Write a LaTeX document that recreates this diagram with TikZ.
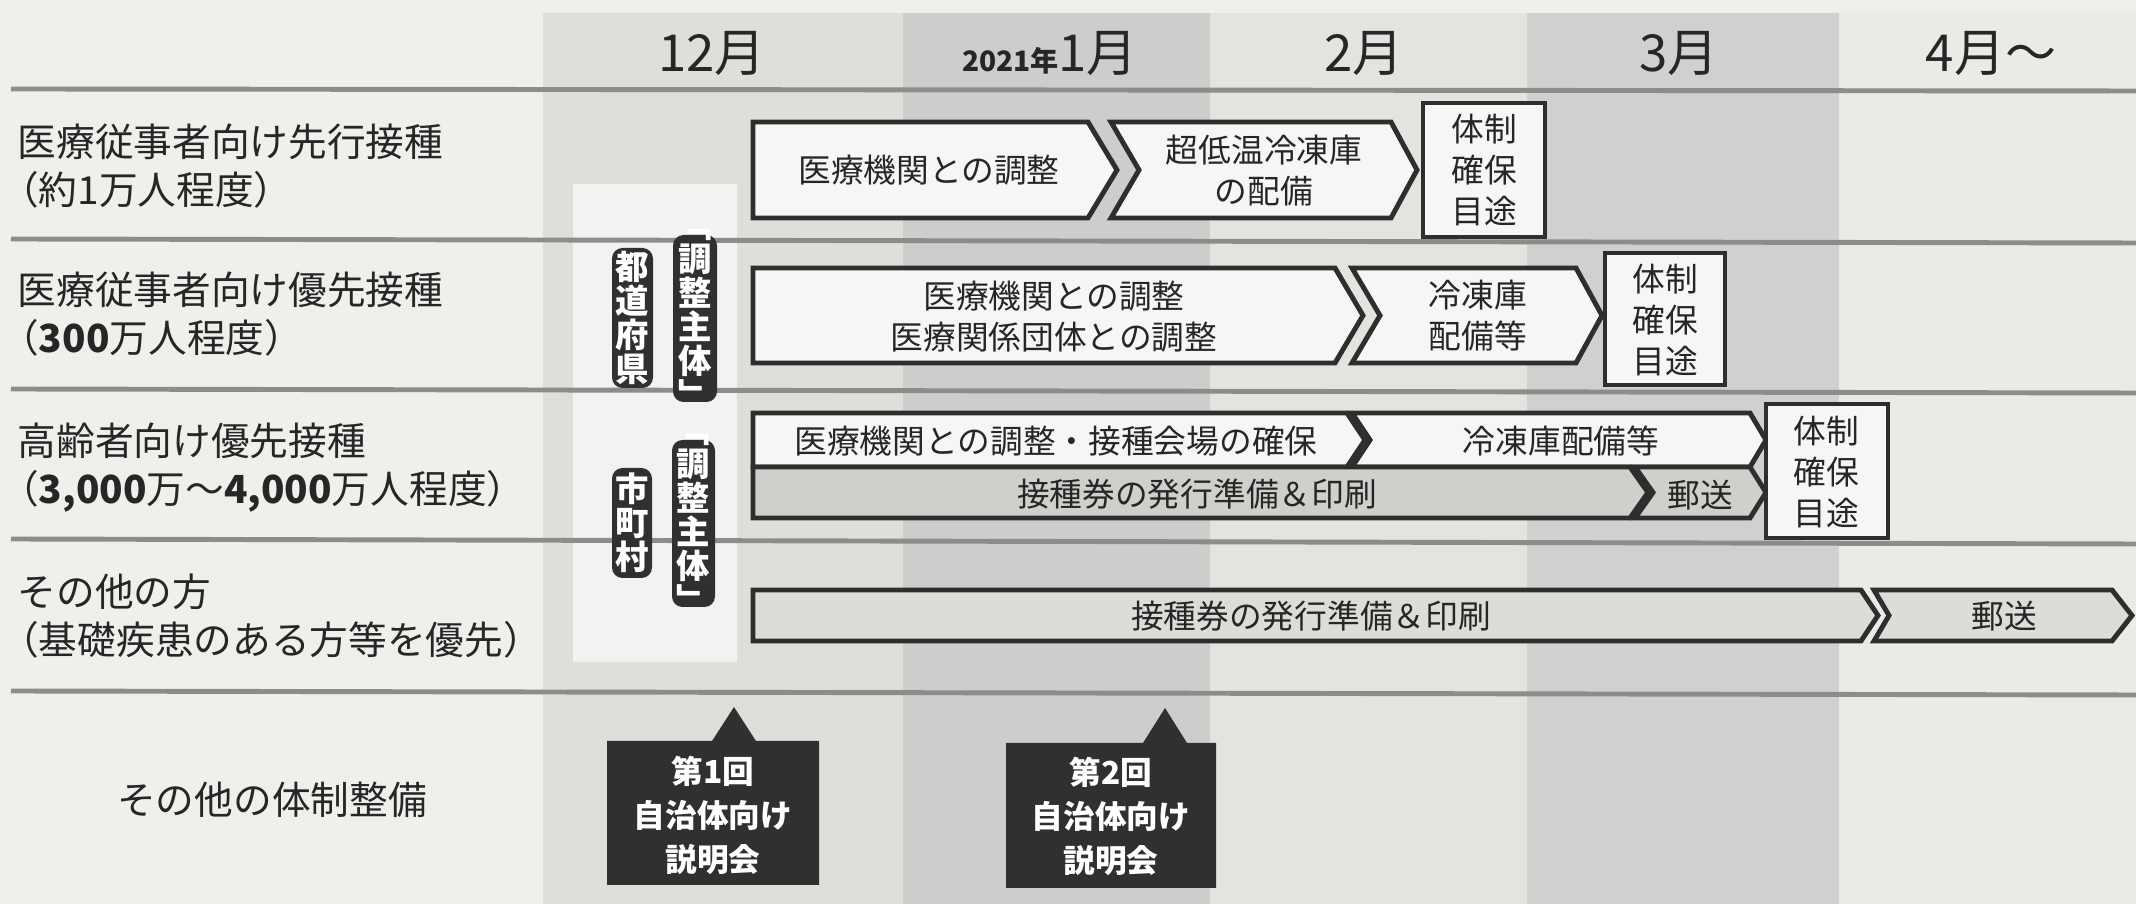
\documentclass[tikz,border=0pt]{standalone}
\usepackage{fontspec}
\setmainfont{Noto Sans CJK JP}
\definecolor{bgc}{HTML}{EFEFEC}
\definecolor{cdec}{HTML}{DEDEDB}
\definecolor{cjan}{HTML}{CDCDCB}
\definecolor{cfeb}{HTML}{E3E3E0}
\definecolor{cmar}{HTML}{D0D0CE}
\definecolor{capr}{HTML}{EAEAE7}
\definecolor{rulec}{HTML}{8C8C8A}
\definecolor{ink}{HTML}{2E2E2E}
\definecolor{txt}{HTML}{262626}
\definecolor{barfill}{HTML}{F6F6F4}
\definecolor{grayfill}{HTML}{CFCFCC}
\definecolor{lightfill}{HTML}{DCDCD9}
\definecolor{darkbox}{HTML}{303030}
\definecolor{stripc}{HTML}{F2F2F0}
\tikzset{
  rowrule/.style={draw=rulec, line width=1.4pt},
  barshape/.style={draw=ink, line width=1.4pt, fill=barfill, line join=miter},
  graybar/.style={barshape, fill=grayfill},
  lightbar/.style={barshape, fill=lightfill},
  goalbox/.style={draw=ink, line width=1.1pt, fill=barfill},
  lbl/.style={font=\fontsize{11pt}{13.7pt}\selectfont, align=left, anchor=west, inner sep=0pt, text=txt},
  bartext/.style={font=\fontsize{9.3pt}{11.7pt}\selectfont, align=center, inner sep=0pt, text=txt},
  month/.style={font=\fontsize{14.5pt}{16pt}\selectfont, anchor=base, inner sep=0pt, text=txt},
  callout/.style={fill=darkbox, draw=none},
  callouttext/.style={font=\fontsize{9pt}{12.5pt}\selectfont\bfseries, align=center, inner sep=0pt, text=white},
  vbox/.style={fill=darkbox, rounded corners=3pt},
  vtext/.style={font=\fontsize{9.5pt}{9.7pt}\selectfont\bfseries, align=center, inner sep=0pt, text=white},
}
\begin{document}
\begin{tikzpicture}[x=0.01cm, y=-0.01cm]
% background
\fill[bgc] (0,0) rectangle (2136,904);
\useasboundingbox (0,0) rectangle (2136,904);
% month columns
\fill[cdec] (543,13) rectangle (903,904);
\fill[cjan] (903,13) rectangle (1210,904);
\fill[cfeb] (1210,13) rectangle (1527,904);
\fill[cmar] (1527,13) rectangle (1839,904);
\fill[capr] (1839,13) rectangle (2136,904);
% light strip behind vertical labels
\fill[stripc] (573,184) rectangle (737,662);
% month headers
\node[month] (mdec) at (712,72) {12月};
\node[month] (mjan) at (1050,72) {{\fontsize{8pt}{9pt}\selectfont\bfseries 2021年}1月};
\node[month] (mfeb) at (1364,72) {2月};
\node[month] (mmar) at (1679,72) {3月};
\node[month] (mapr) at (1991,72) {4月～};
% row rules
\draw[rowrule] (11,89) -- (2136,91);
\draw[rowrule] (11,239) -- (2136,243);
\draw[rowrule] (11,389) -- (2136,393);
\draw[rowrule] (11,539) -- (2136,544);
\draw[rowrule] (11,691) -- (2136,695);
% left labels
\node[lbl] (r1) at (17,166) {医療従事者向け先行接種\\\kern-0.45em（約1万人程度）};
\node[lbl] (r2) at (17,314) {医療従事者向け優先接種\\\kern-0.45em（{\bfseries 300}万人程度）};
\node[lbl] (r3) at (17,468) {高齢者向け優先接種\\\kern-0.45em（{\bfseries 3,000}万～{\bfseries 4,000}万人程度）};
\node[lbl] (r4) at (17,616) {その他の方\\\kern-0.45em（基礎疾患のある方等を優先）};
\node[lbl, anchor=center] (r5) at (272,800) {その他の体制整備};
% vertical labels
\fill[vbox] (612,248) rectangle (653,388);
\node[vtext] (pref) at (632.5,318) {都\\道\\府\\県};
\fill[vbox] (673,235) rectangle (717,402);
\node[vtext] (prefrole) at (695,318.5) {﹁\\調\\整\\主\\体\\﹂};
\fill[vbox] (612,468) rectangle (652,578);
\node[vtext] (muni) at (632,523) {市\\町\\村};
\fill[vbox] (672,440) rectangle (715,607);
\node[vtext] (munirole) at (693.5,523.5) {﹁\\調\\整\\主\\体\\﹂};
% row 1
\draw[barshape] (753,122) -- (1088,122) -- (1117,170) -- (1088,218) -- (753,218) -- cycle;
\node[bartext] (a1) at (929,170) {医療機関との調整};
\draw[barshape] (1111,122) -- (1391,122) -- (1417,170) -- (1391,218) -- (1111,218) -- (1139,170) -- cycle;
\node[bartext] (b1) at (1264,171) {超低温冷凍庫\\の配備};
\draw[goalbox] (1423,103) rectangle (1545,237);
\node[bartext] (c1) at (1484,170) {体制\\確保\\目途};
% row 2
\draw[barshape] (753,268) -- (1335,268) -- (1363,315.5) -- (1335,363) -- (753,363) -- cycle;
\node[bartext] (a2) at (1054,317) {医療機関との調整\\医療関係団体との調整};
\draw[barshape] (1352,268) -- (1576,268) -- (1602,315.5) -- (1576,363) -- (1352,363) -- (1380,315.5) -- cycle;
\node[bartext] (b2) at (1478,316) {冷凍庫\\配備等};
\draw[goalbox] (1605,253) rectangle (1725,385);
\node[bartext] (c2) at (1665,320) {体制\\確保\\目途};
% row 3
\draw[barshape] (753,413) -- (1347,413) -- (1365,440) -- (1347,467) -- (753,467) -- cycle;
\node[bartext] (a3) at (1056,441) {医療機関との調整・接種会場の確保};
\draw[barshape] (1352,413) -- (1750,413) -- (1766,440) -- (1750,467) -- (1352,467) -- (1370,440) -- cycle;
\node[bartext] (b3) at (1561,441) {冷凍庫配備等};
\draw[graybar] (753,467) -- (1630,467) -- (1648,492.5) -- (1630,518) -- (753,518) -- cycle;
\node[bartext] (d3) at (1197,494) {接種券の発行準備＆印刷};
\draw[graybar] (1635,467) -- (1750,467) -- (1766,492.5) -- (1750,518) -- (1635,518) -- (1653,492.5) -- cycle;
\node[bartext] (e3) at (1700,495) {郵送};
\draw[goalbox] (1766,404) rectangle (1888,538);
\node[bartext] (c3) at (1826,472) {体制\\確保\\目途};
% row 4
\draw[lightbar] (753,590) -- (1861,590) -- (1878,615.5) -- (1861,641) -- (753,641) -- cycle;
\node[bartext] (f4) at (1311,616) {接種券の発行準備＆印刷};
\draw[lightbar] (1874,590) -- (2112,590) -- (2132,615.5) -- (2112,641) -- (1874,641) -- (1889,615.5) -- cycle;
\node[bartext] (g4) at (2004,616) {郵送};
% row 5 callouts
\fill[callout] (607,741) -- (712,741) -- (734,707) -- (756,741) -- (819,741) -- (819,885) -- (607,885) -- cycle;
\node[callouttext] (k1) at (713,815) {第1回\\自治体向け\\説明会};
\fill[callout] (1006,743) -- (1143,743) -- (1165,708) -- (1187,743) -- (1216,743) -- (1216,888) -- (1006,888) -- cycle;
\node[callouttext] (k2) at (1111,816) {第2回\\自治体向け\\説明会};
\end{tikzpicture}
\end{document}
